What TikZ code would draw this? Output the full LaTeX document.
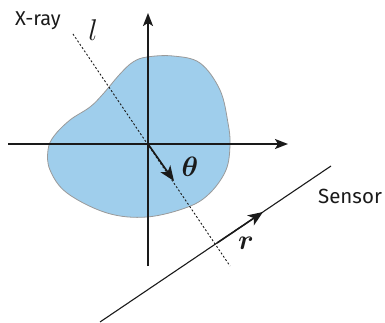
\documentclass[tikz,border=0pt]{standalone}
\usepackage{fix-cm}
\usepackage{fontspec}
\setmainfont{Fira Sans}
\usepackage{amsmath,bm}
\usetikzlibrary{arrows.meta}
\definecolor{blobfill}{HTML}{9FCEEC}
\definecolor{blobedge}{HTML}{9A9A9A}
\definecolor{ink}{HTML}{1A1A1A}
\begin{document}
\begin{tikzpicture}[x=1pt,y=-1pt,
  axis/.style={draw=ink,line width=1.8pt,-{Stealth[length=13pt,width=10pt,inset=3pt]}},
  vec/.style={draw=ink,line width=1.6pt,-{Stealth[length=15pt,width=12pt,inset=4pt]}},
  ray/.style={draw=ink,line width=0.9pt,dash pattern=on 2pt off 2pt},
  sensorline/.style={draw=ink,line width=1.1pt},
  lab/.style={inner sep=0pt,text=ink}]
\useasboundingbox (0,0) rectangle (385,323);
\draw[fill=blobfill,draw=blobedge,line width=0.8pt]
  plot[smooth cycle,tension=0.6] coordinates {
  (147,57) (173,56) (200,63) (220,90) (228,123) (230,145) (226,170)
  (210,193) (188,207) (147,217) (107,213) (67,193) (50,170) (48,150)
  (54,136) (70,120) (90,107) (103,94) (120,74) (133,62)};
\coordinate (O) at (148,144);
\coordinate (xl) at (8,144);
\coordinate (xr) at (288,144);
\coordinate (yb) at (148,266);
\coordinate (yt) at (148,13);
\coordinate (lt) at (73,34);
\coordinate (lb) at (230,266);
\coordinate (th) at (174,181);
\coordinate (sa) at (100,322);
\coordinate (sb) at (331,166);
\coordinate (P) at (217,243);
\coordinate (rt) at (263,212);
\draw[axis] (xl) -- (xr);
\draw[axis] (yb) -- (yt);
\draw[ray] (lt) -- (lb);
\draw[sensorline] (sa) -- (sb);
\draw[vec] (O) -- (th);
\draw[vec] (P) -- (rt);
\node[lab] (xray) at (38,21) {\fontsize{20}{22}\selectfont X-ray};
\node[lab] (sensor) at (350,196) {\fontsize{20.5}{22}\selectfont Sensor};
\node[lab] (llab) at (93,30) {\fontsize{30}{32}\selectfont $l$};
\node[lab] (thlab) at (190,167) {\fontsize{28}{30}\selectfont $\bm{\theta}$};
\node[lab] (rlab) at (246,243) {\fontsize{28}{30}\selectfont $\bm{r}$};
\end{tikzpicture}
\end{document}
